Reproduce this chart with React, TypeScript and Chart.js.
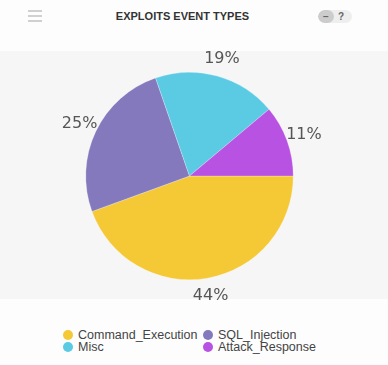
import React, { useEffect, useRef } from "react";
import { Chart, registerables } from "chart.js";

Chart.register(...registerables);

const categories = ["Command_Execution", "SQL_Injection", "Misc", "Attack_Response"];
const values = [44, 25, 19, 11];
const percentLabels = ["44%", "25%", "19%", "11%"];
const colors = ["#F5C836", "#8579BD", "#5BCAE3", "#B852E3"];

const labelPlugin = {
  id: "outerLabels",
  afterDatasetsDraw(chart: any) {
    const ctx = chart.ctx;
    const meta = chart.getDatasetMeta(0);
    ctx.save();
    ctx.font = "16px 'DejaVu Sans'";
    ctx.fillStyle = "#555";
    ctx.textAlign = "center";
    ctx.textBaseline = "middle";
    meta.data.forEach((arc: any, i: number) => {
      const p = arc.getProps(["x", "y", "startAngle", "endAngle", "outerRadius"], true);
      const mid = (p.startAngle + p.endAngle) / 2;
      const r = p.outerRadius + 18;
      ctx.fillText(percentLabels[i], p.x + Math.cos(mid) * r, p.y + Math.sin(mid) * r);
    });
    ctx.restore();
  },
};

export default function App() {
  const ref = useRef<HTMLCanvasElement>(null);
  useEffect(() => {
    if (!ref.current) return;
    const chart = new Chart(ref.current, {
      type: "pie",
      data: {
        labels: categories,
        datasets: [
          {
            data: values,
            backgroundColor: colors,
            borderColor: "rgba(255,255,255,0.5)",
            borderWidth: 0.5,
          },
        ],
      },
      options: {
        animation: false,
        responsive: false,
        maintainAspectRatio: false,
        rotation: 90,
        layout: { padding: { left: 85, right: 94, top: 32, bottom: 32 } },
        plugins: { legend: { display: false }, tooltip: { enabled: false } },
      },
      plugins: [labelPlugin],
    });
    return () => chart.destroy();
  }, []);

  const legendItem = (i: number) => (
    <div style={{ display: "flex", alignItems: "center", height: 12 }}>
      <span
        style={{
          width: 10,
          height: 10,
          borderRadius: "50%",
          background: colors[i],
          display: "inline-block",
          marginRight: 5,
        }}
      />
      <span>{categories[i]}</span>
    </div>
  );

  return (
    <div
      style={{
        position: "relative",
        width: 388,
        height: 365,
        background: "#fdfdfd",
        fontFamily: "'Liberation Sans', Arial, sans-serif",
        overflow: "hidden",
      }}
    >
      <style>{`body{margin:0}`}</style>
      {/* hamburger */}
      <div style={{ position: "absolute", left: 28, top: 10, width: 14 }}>
        {[0, 5, 10].map((t) => (
          <div
            key={t}
            style={{ position: "absolute", top: t, left: 0, width: 14, height: 2, background: "#d0d0d0" }}
          />
        ))}
      </div>
      <div
        style={{
          position: "absolute",
          left: 0,
          width: 365,
          top: 10,
          textAlign: "center",
          fontWeight: "bold",
          fontSize: 11,
          color: "#333",
        }}
      >
        EXPLOITS EVENT TYPES
      </div>
      {/* toggle */}
      <div
        style={{
          position: "absolute",
          left: 318,
          top: 10,
          width: 34,
          height: 13,
          borderRadius: 7,
          background: "#eeeeee",
          overflow: "hidden",
          fontSize: 10,
          fontWeight: "bold",
          color: "#666",
        }}
      >
        <div
          style={{
            position: "absolute",
            left: 0,
            top: 0,
            width: 16,
            height: 13,
            background: "#cccccc",
            borderRadius: 7,
            textAlign: "center",
            lineHeight: "13px",
          }}
        >
          −
        </div>
        <div style={{ position: "absolute", left: 20, top: 0, lineHeight: "13px" }}>?</div>
      </div>
      {/* panel */}
      <div
        style={{ position: "absolute", left: 0, top: 51, width: 388, height: 248, background: "#f6f6f6" }}
      />
      <canvas
        ref={ref}
        width={388}
        height={272}
        style={{ position: "absolute", left: 0, top: 40, width: 388, height: 272 }}
      />
      {/* legend */}
      <div
        style={{
          position: "absolute",
          left: 63,
          top: 329,
          display: "grid",
          gridTemplateColumns: "140px auto",
          fontSize: 12.5,
          color: "#444",
        }}
      >
        {legendItem(0)}
        {legendItem(1)}
        {legendItem(2)}
        {legendItem(3)}
      </div>
    </div>
  );
}
